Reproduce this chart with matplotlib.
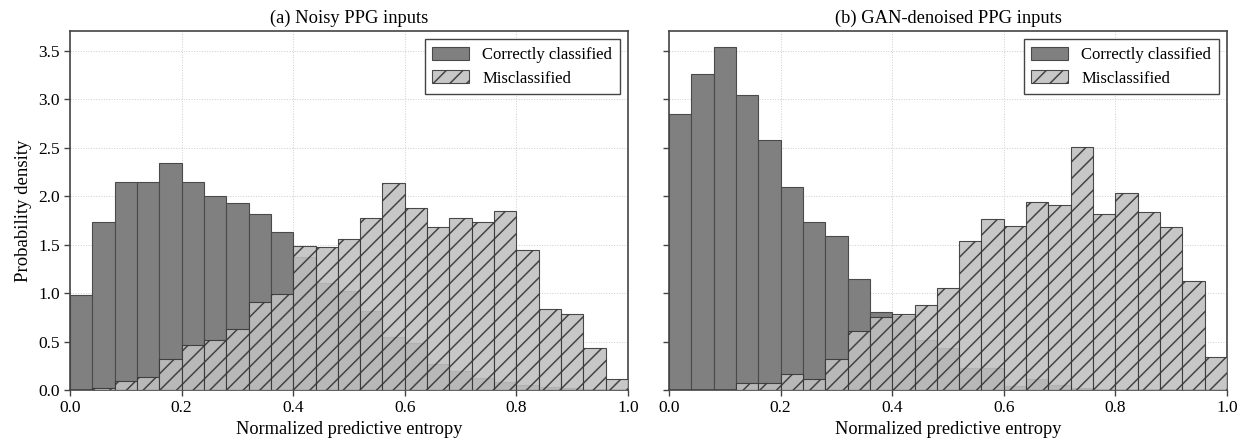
import numpy as np
import matplotlib
matplotlib.use('Agg')
import matplotlib.pyplot as plt

plt.rcParams['font.family'] = ['Liberation Serif', 'DejaVu Serif']
plt.rcParams['hatch.linewidth'] = 1.1

# 25 bins over normalized entropy [0, 1], density values
n_bins = 25
titles = ['(a) Noisy PPG inputs', '(b) GAN-denoised PPG inputs']

noisy_correct = [0.98, 1.73, 2.145, 2.145, 2.34, 2.145, 2.0, 1.934, 1.817, 1.628,
                 1.37, 1.10, 1.02, 0.81, 0.55, 0.49, 0.27, 0.20, 0.12, 0.08,
                 0.05, 0.03, 0.02, 0.01, 0.0]
noisy_wrong = [0.0, 0.024, 0.093, 0.13, 0.317, 0.46, 0.517, 0.628, 0.907, 0.99,
               1.486, 1.476, 1.559, 1.776, 2.141, 1.879, 1.679, 1.776, 1.738, 1.848,
               1.448, 0.834, 0.783, 0.431, 0.11]

gan_correct = [2.845, 3.259, 3.541, 3.045, 2.576, 2.10, 1.731, 1.593, 1.148, 0.803,
               0.76, 0.52, 0.43, 0.23, 0.23, 0.04, 0.11, 0.05, 0.02, 0.01,
               0.0, 0.0, 0.0, 0.0, 0.0]
gan_wrong = [0.0, 0.0, 0.0, 0.076, 0.076, 0.16, 0.11, 0.317, 0.607, 0.752,
             0.783, 0.876, 1.055, 1.541, 1.769, 1.697, 1.945, 1.91, 2.503, 1.82,
             2.034, 1.841, 1.683, 1.128, 0.341]

panels = [(noisy_correct, noisy_wrong), (gan_correct, gan_wrong)]

edges = np.linspace(0, 1, n_bins + 1)
width = edges[1] - edges[0]

fig, axes = plt.subplots(1, 2, figsize=(12.44, 4.46), dpi=100, sharey=True)
fig.subplots_adjust(left=0.0563, right=0.9863, top=0.9305, bottom=0.1256, wspace=0.0735)

for ax, (corr, wrong), title in zip(axes, panels, titles):
    ax.bar(edges[:-1], corr, width=width, align='edge', color='#808080',
           edgecolor='#4a4a4a', linewidth=0.8, label='Correctly classified', zorder=2)
    ax.bar(edges[:-1], wrong, width=width, align='edge', color='#c0c0c0', alpha=0.88,
           edgecolor='#333333', linewidth=0.8, hatch='//', label='Misclassified', zorder=3)
    ax.set_xlim(0, 1)
    ax.set_title(title, fontsize=13.3, pad=6)
    ax.set_xlabel('Normalized predictive entropy', fontsize=13.2, labelpad=3)
    ax.grid(True, linestyle=':', color='#cccccc', linewidth=0.7, zorder=0)
    ax.set_axisbelow(True)
    for s in ax.spines.values():
        s.set_color('#444444')
        s.set_linewidth(1.2)
    ax.tick_params(direction='out', length=4, width=1, colors='#444444',
                   labelcolor='black', labelsize=12.5)
    leg = ax.legend(loc='upper right', fontsize=12, fancybox=False, framealpha=1,
                    edgecolor='#444444', borderpad=0.45, handlelength=2.2,
                    handleheight=0.8, labelspacing=0.45)
    leg.get_frame().set_linewidth(1.0)

axes[0].set_ylabel('Probability density', fontsize=13.5)
axes[0].set_yticks(np.arange(0, 3.51, 0.5))
axes[0].set_ylim(0, 3.705)

fig.savefig('out.png', dpi=100)
